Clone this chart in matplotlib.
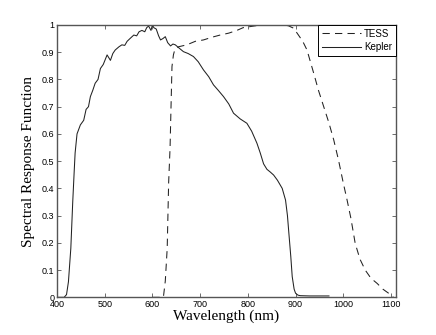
import matplotlib
matplotlib.use("Agg")
from matplotlib import pyplot as plt

# Kepler response (solid)
kepler_wl = [400, 415, 420, 424, 429, 433, 436, 438, 442, 449, 456, 461, 466, 470, 475, 480,
             486, 491, 497, 505, 512, 517, 522, 530, 536, 542, 547, 553, 561, 567, 572, 578,
             584, 588, 592, 597, 600, 603, 608, 613, 617, 622, 627, 632, 638, 643, 648, 656,
             665, 675, 686, 696, 707, 718, 728, 738, 749, 760, 770, 784, 798, 808, 819, 826,
             833, 840, 847, 854, 862, 872, 879, 883, 886, 890, 893, 897, 900, 905, 910, 930,
             950, 970]
kepler_resp = [0, 0.0, 0.01, 0.057, 0.18, 0.35, 0.46, 0.53, 0.60, 0.633, 0.65, 0.69, 0.70, 0.737, 0.76, 0.786,
               0.80, 0.84, 0.855, 0.89, 0.87, 0.895, 0.908, 0.92, 0.927, 0.925, 0.94, 0.95, 0.963, 0.96, 0.975, 0.98,
               0.975, 0.99, 0.996, 0.98, 1.0, 0.99, 0.985, 0.96, 0.945, 0.95, 0.957, 0.935, 0.923, 0.93, 0.927, 0.915,
               0.902, 0.895, 0.884, 0.865, 0.835, 0.81, 0.78, 0.76, 0.737, 0.71, 0.676, 0.655, 0.639, 0.61, 0.566, 0.53,
               0.49, 0.47, 0.46, 0.449, 0.43, 0.40, 0.357, 0.30, 0.235, 0.15, 0.076, 0.03, 0.015, 0.008, 0.006, 0.005,
               0.005, 0.005]

# TESS response (dashed)
tess_wl = [600, 623, 627, 631, 634, 637, 639, 641, 644, 647, 655, 672, 690, 707, 725, 742,
           760, 777, 790, 805, 820, 833, 850, 875, 885, 896, 906, 915, 924, 938, 948, 959,
           970, 980, 990, 1000, 1008, 1016, 1025, 1035, 1046, 1058, 1071, 1083, 1095, 1102, 1105]
tess_resp = [0, 0, 0.06, 0.18, 0.42, 0.55, 0.70, 0.847, 0.89, 0.91, 0.92, 0.927, 0.94, 0.945, 0.955, 0.963,
             0.97, 0.98, 0.99, 0.994, 0.998, 1.0, 1.0, 1.0, 0.997, 0.988, 0.963, 0.94, 0.908, 0.823, 0.76, 0.70,
             0.64, 0.578, 0.504, 0.42, 0.357, 0.29, 0.198, 0.14, 0.10, 0.07, 0.051, 0.03, 0.015, 0.005, 0]

xticks = [400, 500, 600, 700, 800, 900, 1000, 1100]
yticks = [0, 0.1, 0.2, 0.3, 0.4, 0.5, 0.6, 0.7, 0.8, 0.9, 1]
ytick_labels = ['0', '0.1', '0.2', '0.3', '0.4', '0.5', '0.6', '0.7', '0.8', '0.9', '1']

plt.rcParams['font.family'] = 'Liberation Sans'

fig = plt.figure(figsize=(4.36, 3.35), dpi=100)
ax = fig.add_axes([0.1307, 0.1125, 0.777, 0.813])

ax.plot(tess_wl, tess_resp, color='#222222', lw=0.75, linestyle=(0, (7, 5)), label='TESS')
ax.plot(kepler_wl, kepler_resp, color='#222222', lw=0.75, label='Kepler')

ax.set_xlim(400, 1110)
ax.set_ylim(0, 1)
ax.set_xticks(xticks)
ax.set_yticks(yticks)
ax.set_yticklabels(ytick_labels)
ax.tick_params(direction='in', length=3, width=0.6, color='#555555', labelsize=6.5,
               top=True, right=True, pad=2)
for s in ax.spines.values():
    s.set_color('#555555')
    s.set_linewidth(1.0)

ax.set_xlabel('Wavelength (nm)', family='Liberation Serif', fontsize=11, labelpad=0)
ax.set_ylabel('Spectral Response Function', family='Liberation Serif', fontsize=11, labelpad=5)

leg = ax.legend(loc='upper right', fontsize=7, fancybox=False, framealpha=1,
                edgecolor='black', borderaxespad=0, handlelength=4, borderpad=0.4,
                labelspacing=0.35, handletextpad=0.3)
leg.get_frame().set_linewidth(0.7)

fig.savefig('out.png', dpi=100)
